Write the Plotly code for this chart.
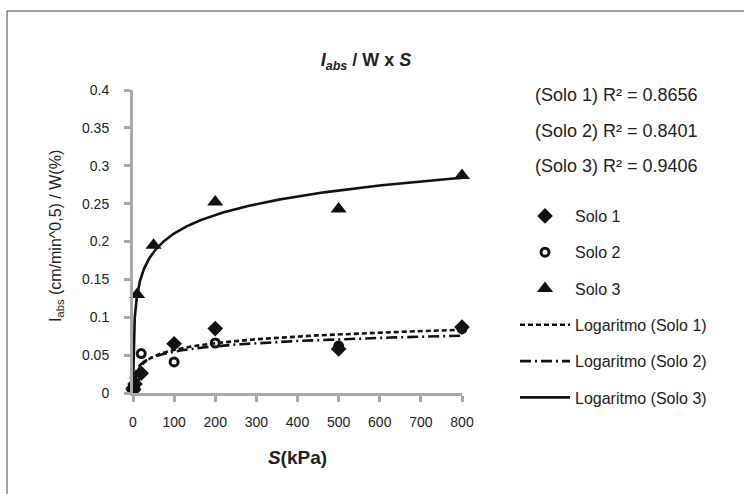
import numpy as np
import plotly.graph_objects as go

# ---- data ----
S1 = [1, 5, 20, 100, 200, 500, 800]
I1 = [0.004, 0.012, 0.026, 0.065, 0.085, 0.058, 0.087]

S2 = [1, 5, 20, 100, 200, 500, 800]
I2 = [0.008, 0.020, 0.052, 0.041, 0.066, 0.062, 0.085]

S3 = [0.4, 10, 50, 200, 500, 800]
I3 = [0.010, 0.130, 0.195, 0.252, 0.243, 0.287]

series_names = ["Solo 1", "Solo 2", "Solo 3"]
r2_labels = ["(Solo 1) R² = 0.8656", "(Solo 2) R² = 0.8401", "(Solo 3) R² = 0.9406"]
x_ticks = [0, 100, 200, 300, 400, 500, 600, 700, 800]
y_ticks = [0, 0.05, 0.1, 0.15, 0.2, 0.25, 0.3, 0.35, 0.4]

# ---- layout geometry (pixels) ----
W, H = 744, 494
L, R, T, B = 133, 462, 90, 393
pw, ph = R - L, B - T


def px_x(p):
    return (p - L) / pw


def px_y(p):
    return (B - p) / ph


FONT = "Liberation Sans, Arial, sans-serif"
BLACK = "#111111"
GREY = "#a8a8a8"
TXT = "#222222"

fig = go.Figure()

markers = [
    dict(symbol="diamond", size=12, color=BLACK),
    dict(symbol="circle-open", size=8, color=BLACK, line=dict(width=3, color=BLACK)),
    dict(symbol="triangle-up", size=14, color=BLACK),
]
data = [(S1, I1), (S2, I2), (S3, I3)]

for i, ((sx, sy), mk) in enumerate(zip(data, markers)):
    fig.add_trace(go.Scatter(
        x=sx, y=sy, mode="markers", name=series_names[i], marker=mk,
        legendgroup=f"g{i}", cliponaxis=False,
    ))

dashes = ["5px,3px", "11px,4px,2px,4px", "solid"]
for i, (sx, sy) in enumerate(data):
    lx = np.log(np.array(sx, dtype=float))
    a, b = np.polyfit(lx, np.array(sy, dtype=float), 1)
    xs = np.geomspace(min(sx), max(sx), 300)
    ys = a * np.log(xs) + b
    fig.add_trace(go.Scatter(
        x=xs, y=ys, mode="lines", name=f"Logaritmo ({series_names[i]})",
        line=dict(color=BLACK, width=2.6, dash=dashes[i]),
        legendgroup=f"t{i}",
    ))

fig.update_layout(
    width=W, height=H,
    margin=dict(l=L, r=W - R, t=T, b=H - B),
    paper_bgcolor="white", plot_bgcolor="white",
    font=dict(family=FONT, size=14, color=TXT),
    title=dict(
        text="<b><i>I</i></b><sub><b><i>abs</i></b></sub><b> / W x <i>S</i></b>",
        x=366 / W, xanchor="center",
        y=1 - 60 / H, yanchor="middle",
        font=dict(size=18, family=FONT, color=TXT),
    ),
    xaxis=dict(
        range=[0, 800], tickvals=x_ticks, showgrid=False, zeroline=False,
        showline=True, linecolor=GREY, linewidth=3,
        ticks="outside", ticklen=6, tickwidth=3, tickcolor=GREY,
        ticklabelstandoff=8,
        tickfont=dict(size=14, color=TXT),
        title=dict(text="<b><i>S</i>(kPa)</b>", font=dict(size=19, color=TXT), standoff=22),
    ),
    yaxis=dict(
        range=[0, 0.4], tickvals=y_ticks, showgrid=False, zeroline=False,
        showline=True, linecolor=GREY, linewidth=3,
        ticks="outside", ticklen=6, tickwidth=3, tickcolor=GREY,
        ticklabelstandoff=12,
        tickfont=dict(size=14, color=TXT),
    ),
    legend=dict(
        x=px_x(515), y=px_y(199), xanchor="left", yanchor="top",
        font=dict(size=16, color=TXT), tracegroupgap=12.5,
        itemwidth=50, bgcolor="rgba(0,0,0,0)",
    ),
    showlegend=True,
)

# y axis title as rotated text
fig.add_annotation(
    text="I<sub>abs</sub> (cm/min^0,5) / W(%)", textangle=-90,
    xref="paper", yref="paper", x=px_x(57), y=px_y(236),
    xanchor="center", yanchor="middle", showarrow=False,
    font=dict(size=16, color=TXT),
)

for i, txt in enumerate(r2_labels):
    fig.add_annotation(
        text=txt, xref="paper", yref="paper",
        x=px_x(616), y=px_y(95 + 35.5 * i), xanchor="center", yanchor="middle",
        showarrow=False, font=dict(size=18, color=TXT),
    )

# outer frame (left + top edges)
fig.add_shape(type="line", xref="paper", yref="paper",
              x0=px_x(7), x1=px_x(7), y0=px_y(11), y1=px_y(H + 5),
              line=dict(color="#444444", width=1))
fig.add_shape(type="line", xref="paper", yref="paper",
              x0=px_x(7), x1=px_x(W + 5), y0=px_y(11), y1=px_y(11),
              line=dict(color="#444444", width=1))

fig.write_html("out.html", config={"displayModeBar": False},
               post_script="document.body.style.margin='0';")
